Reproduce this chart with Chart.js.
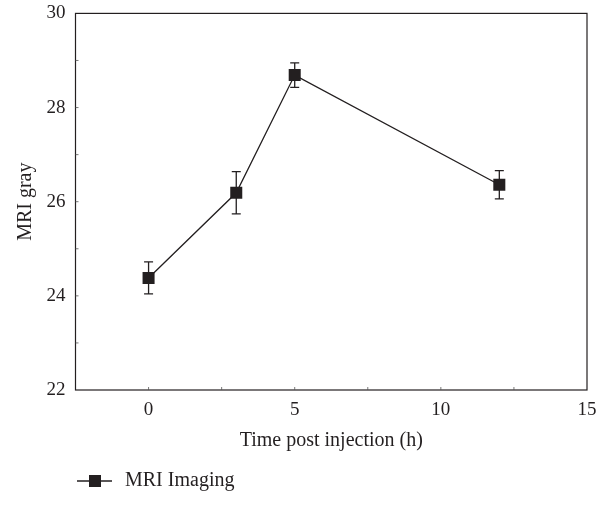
<!DOCTYPE html>
<html>
<head>
<meta charset="utf-8">
<script src="https://cdn.jsdelivr.net/npm/chart.js@4"></script>
<style>
  html, body { margin: 0; padding: 0; background: #fff; }
  #wrap { width: 608px; height: 505px; }
</style>
</head>
<body>
<div id="wrap"><canvas id="c" width="608" height="505"></canvas></div>
<script>
// ---- data ----
const seriesLabel = 'MRI Imaging';
const timesH = [0, 3, 5, 12];
const mriGray = [24.38, 26.19, 28.69, 26.36];
const mriError = [0.34, 0.45, 0.26, 0.30];
const xTickLabels = [0, 5, 10, 15];
const yTickLabels = [22, 24, 26, 28, 30];
const xTitle = 'Time post injection (h)';
const yTitle = 'MRI gray';

const INK = '#231f20';
const FONT = "'Liberation Serif', 'DejaVu Serif', serif";

const errorBars = {
  id: 'errorBars',
  beforeDatasetsDraw(chart) {
    const { ctx, scales: { x, y } } = chart;
    ctx.save();
    ctx.strokeStyle = INK;
    ctx.lineWidth = 1.3;
    timesH.forEach((t, i) => {
      const px = x.getPixelForValue(t);
      const top = y.getPixelForValue(mriGray[i] + mriError[i]);
      const bot = y.getPixelForValue(mriGray[i] - mriError[i]);
      ctx.beginPath();
      ctx.moveTo(px, top); ctx.lineTo(px, bot);
      ctx.moveTo(px - 4.5, top); ctx.lineTo(px + 4.5, top);
      ctx.moveTo(px - 4.5, bot); ctx.lineTo(px + 4.5, bot);
      ctx.stroke();
    });
    ctx.restore();
  }
};

const frame = {
  id: 'frame',
  afterDraw(chart) {
    const { ctx, chartArea: a, scales: { x, y } } = chart;
    ctx.save();
    ctx.strokeStyle = INK;
    ctx.lineWidth = 1.2;
    ctx.strokeRect(a.left, a.top, a.right - a.left, a.bottom - a.top);
    ctx.lineWidth = 0.8;
    ctx.strokeStyle = '#555';
    ctx.beginPath();
    x.ticks.forEach(tk => {
      const px = x.getPixelForValue(tk.value);
      if (px <= a.left + 1 || px >= a.right - 1) return;
      ctx.moveTo(px, a.bottom); ctx.lineTo(px, a.bottom - 3);
    });
    y.ticks.forEach(tk => {
      const py = y.getPixelForValue(tk.value);
      if (py <= a.top + 1 || py >= a.bottom - 1) return;
      ctx.moveTo(a.left, py); ctx.lineTo(a.left + 3, py);
    });
    ctx.stroke();
    // legend
    const ly = 481;
    ctx.strokeStyle = INK;
    ctx.lineWidth = 1.3;
    ctx.beginPath();
    ctx.moveTo(77, ly); ctx.lineTo(112, ly);
    ctx.stroke();
    ctx.fillStyle = INK;
    ctx.fillRect(89, ly - 6, 12, 12);
    ctx.font = '20px ' + FONT;
    ctx.textBaseline = 'middle';
    ctx.textAlign = 'left';
    ctx.fillText(chart.data.datasets[0].label, 125, ly);
    ctx.restore();
  }
};

new Chart(document.getElementById('c'), {
  type: 'line',
  data: {
    datasets: [{
      label: seriesLabel,
      data: timesH.map((t, i) => ({ x: t, y: mriGray[i] })),
      borderColor: INK,
      borderWidth: 1.3,
      backgroundColor: INK,
      pointStyle: 'rect',
      pointRadius: 8.5,
      pointHoverRadius: 8.5,
      pointBorderWidth: 0,
      pointBackgroundColor: INK,
      tension: 0
    }]
  },
  options: {
    responsive: false,
    animation: false,
    events: [],
    layout: { padding: { left: 0, right: 21, top: 7, bottom: 0 } },
    plugins: { legend: { display: false }, tooltip: { enabled: false } },
    scales: {
      x: {
        type: 'linear',
        min: -2.5, max: 15,
        grid: { display: false },
        border: { display: false },
        afterFit(s) { s.height = 115; },
        afterBuildTicks(s) {
          const arr = [];
          for (let v = -2.5; v <= 15.001; v += 2.5) arr.push({ value: v });
          s.ticks = arr;
        },
        ticks: {
          autoSkip: false,
          maxRotation: 0,
          padding: 1,
          color: INK,
          font: { family: FONT, size: 19 },
          callback: v => (xTickLabels.includes(v) ? String(v) : '')
        },
        title: {
          display: true, text: xTitle, color: INK,
          font: { family: FONT, size: 20 },
          padding: { top: 4, bottom: 52 }
        }
      },
      y: {
        type: 'linear',
        min: 22, max: 30,
        grid: { display: false },
        border: { display: false },
        afterFit(s) { s.width = 75.5; },
        afterBuildTicks(s) {
          const arr = [];
          for (let v = 22; v <= 30; v += 1) arr.push({ value: v });
          s.ticks = arr;
        },
        ticks: {
          autoSkip: false,
          padding: 2,
          color: INK,
          font: { family: FONT, size: 19 },
          callback: v => (yTickLabels.includes(v) ? String(v) : '')
        },
        title: {
          display: true, text: yTitle, color: INK,
          font: { family: FONT, size: 20 },
          padding: { top: 14, bottom: 0 }
        }
      }
    }
  },
  plugins: [errorBars, frame]
});
</script>
</body>
</html>
